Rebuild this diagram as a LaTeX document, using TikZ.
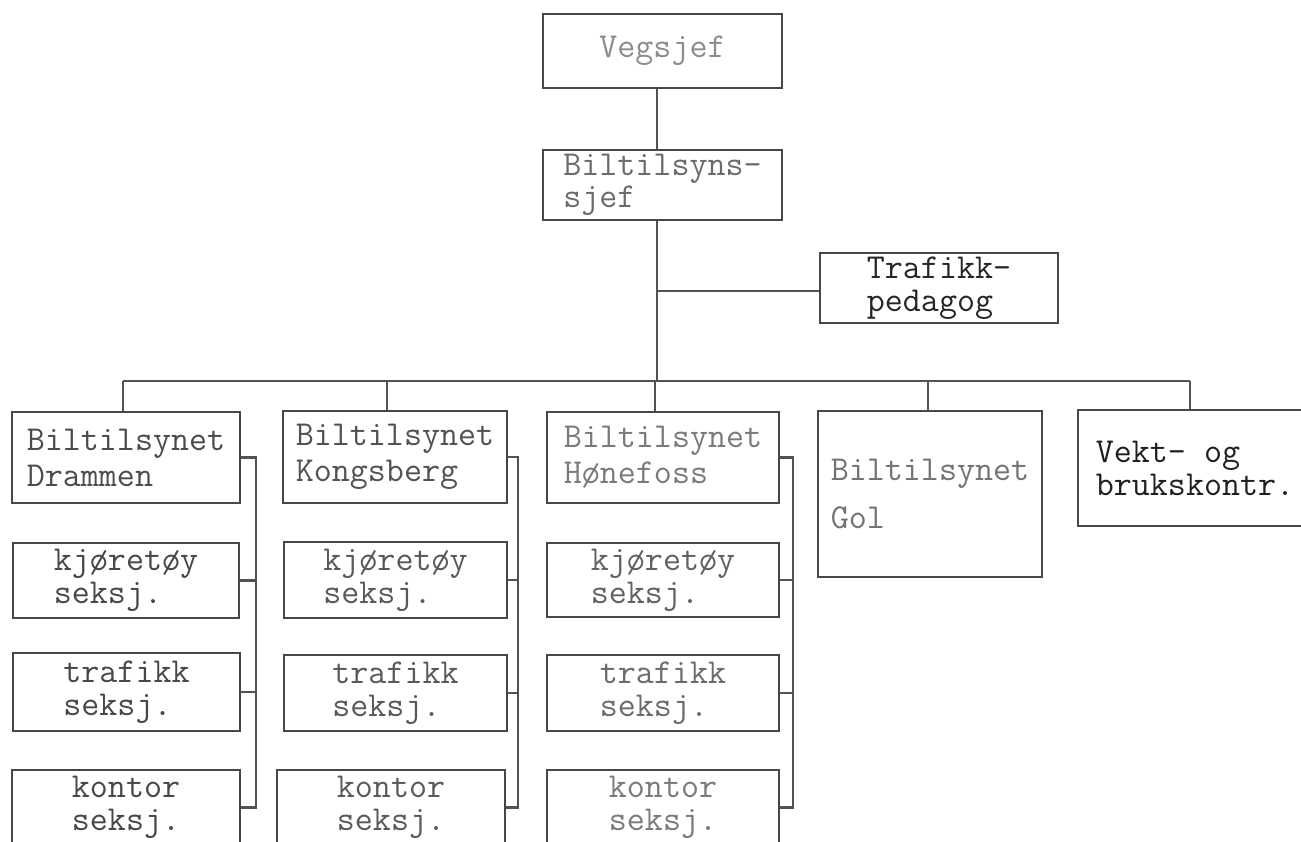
\documentclass[tikz,border=0pt]{standalone}
\usepackage{fontspec}
\begin{document}
\begin{tikzpicture}[x=1pt,y=-1pt,
  box/.style={draw=black!72, line width=2.4pt, inner sep=0pt, align=left, text=black!72},
  fs/.style={font=\ttfamily\fontsize{35}{#1}\selectfont},
  conn/.style={draw=black!68, line width=2.2pt}]
\clip (0,0) rectangle (1301,842);
\fill[white] (0,0) rectangle (1301,842);
% top
\node[box, fs=30, text=black!45, minimum width=239pt, minimum height=74pt] (veg) at (662.5,51) {Vegsjef};
\node[box, fs=32, text=black!58, minimum width=239pt, minimum height=70pt] (bts) at (662.5,185) {Biltilsyns-\\sjef};
\node[box, fs=33, text=black!85, minimum width=238pt, minimum height=70pt] (tp) at (939,288) {Trafikk-\\pedagog};
% row 1
\node[box, fs=36, text=black!70, minimum width=228pt, minimum height=91pt] (dram) at (126,457.5) {Biltilsynet\\Drammen};
\node[box, fs=36, text=black!68, minimum width=224pt, minimum height=92pt] (kong) at (395,457) {Biltilsynet\\Kongsberg};
\node[box, fs=36, text=black!52, minimum width=232pt, minimum height=91pt] (hon) at (663,457.5) {Biltilsynet\\Hønefoss};
\node[box, fs=48, text=black!55, minimum width=224pt, minimum height=166pt] (gol) at (930,494) {Biltilsynet\\Gol};
\node[box, fs=33, text=black!88, minimum width=234pt, minimum height=116pt] (vekt) at (1195,468) {Vekt- og\\brukskontr.};
% column 1
\node[box, fs=33, minimum width=226pt, minimum height=75pt] (kj1) at (126,580.5) {kjøretøy\\seksj.};
\node[box, fs=33, minimum width=227pt, minimum height=78pt] (tr1) at (126.5,692) {trafikk\\seksj.};
\node[box, fs=33, minimum width=228pt, minimum height=75pt] (ko1) at (126,807.5) {kontor\\seksj.};
% column 2
\node[box, fs=33, text=black!65, minimum width=223pt, minimum height=76pt] (kj2) at (395.5,580) {kjøretøy\\seksj.};
\node[box, fs=33, text=black!65, minimum width=223pt, minimum height=76pt] (tr2) at (395.5,693) {trafikk\\seksj.};
\node[box, fs=33, text=black!65, minimum width=228pt, minimum height=75pt] (ko2) at (391,807.5) {kontor\\seksj.};
% column 3
\node[box, fs=33, text=black!62, minimum width=232pt, minimum height=74pt] (kj3) at (663,580) {kjøretøy\\seksj.};
\node[box, fs=33, text=black!58, minimum width=232pt, minimum height=76pt] (tr3) at (663,693) {trafikk\\seksj.};
\node[box, fs=33, text=black!52, minimum width=232pt, minimum height=75pt] (ko3) at (663,807.5) {kontor\\seksj.};
% trunk coordinates
\coordinate (trunk) at (657,0);
\coordinate (tj) at (657,291);
\coordinate (barL) at (123,381);
\coordinate (barM) at (657,381);
\coordinate (barR) at (1190,381);
\coordinate (d2) at (387,381);
\coordinate (d3) at (655,381);
\coordinate (d4) at (928,381);
\coordinate (v1) at (256,0);
\coordinate (v2) at (518,0);
\coordinate (v3) at (793,0);
% connectors
\draw[conn] (veg.south -| trunk) -- (bts.north -| trunk);
\draw[conn] (bts.south -| trunk) -- (barM);
\draw[conn] (tj) -- (tp.west |- tj);
\draw[conn] (barL) -- (barR);
\draw[conn] (barL) -- (dram.north -| barL);
\draw[conn] (d2) -- (kong.north -| d2);
\draw[conn] (d3) -- (hon.north -| d3);
\draw[conn] (d4) -- (gol.north -| d4);
\draw[conn] (barR) -- (vekt.north -| barR);
% column connectors
\draw[conn] (dram.east) -- (dram.east -| v1) -- (ko1.east -| v1) -- (ko1.east);
\draw[conn] (kj1.east) -- (kj1.east -| v1);
\draw[conn] (tr1.east) -- (tr1.east -| v1);
\draw[conn] (kong.east) -- (kong.east -| v2) -- (ko2.east -| v2) -- (ko2.east);
\draw[conn] (kj2.east) -- (kj2.east -| v2);
\draw[conn] (tr2.east) -- (tr2.east -| v2);
\draw[conn] (hon.east) -- (hon.east -| v3) -- (ko3.east -| v3) -- (ko3.east);
\draw[conn] (kj3.east) -- (kj3.east -| v3);
\draw[conn] (tr3.east) -- (tr3.east -| v3);
\end{tikzpicture}
\end{document}
